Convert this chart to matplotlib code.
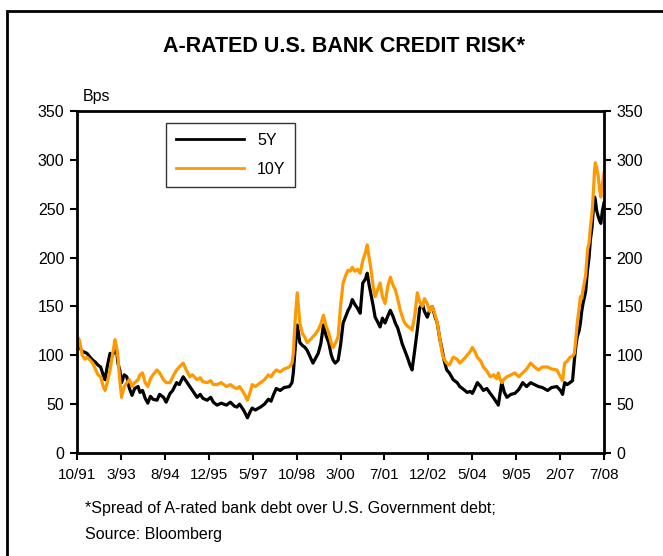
import numpy as np
import matplotlib.pyplot as plt
from matplotlib.patches import Rectangle

plt.rcParams['font.family'] = ['Liberation Sans', 'DejaVu Sans']

# months since Oct 1991 (bps)
months = [0, 1, 2, 3, 3.8, 5, 6, 7, 8, 9,
          10, 10.7, 11.5, 12.6, 13.5, 14.5, 15, 15.6, 16.3, 17,
          18, 19, 20, 21, 22, 23.3, 24, 25, 26, 27,
          28, 29, 30.5, 31.5, 33, 34, 35.5, 36.5, 38, 39,
          40.5, 41.5, 43, 44, 45.8, 47, 48, 49.6, 51, 52,
          53.4, 55, 57, 58.5, 60, 61, 62, 63.5, 64.3, 65,
          66, 66.8, 68, 70, 71.5, 73, 74, 75, 76, 77.5,
          79, 81, 82, 82.5, 83.3, 84, 85, 86, 87, 87.8,
          89, 90, 91, 92, 93, 94, 95, 96, 97, 97.7,
          98.5, 99.6, 100.5, 101.5, 102.5, 103.4, 104.2, 105, 106, 107,
          108, 109, 110, 110.7, 111.4, 112, 113, 113.7, 114.5, 115.6,
          116.5, 117.5, 118.5, 119.5, 120.5, 121.4, 122.3, 123.3, 124, 125,
          126, 127, 127.8, 128.8, 129.8, 130.7, 131.7, 132.5, 133.6, 134.5,
          135.5, 136.5, 137.4, 138.3, 139.3, 140, 141, 142, 143.5, 145,
          146, 147.5, 148.8, 150, 150.8, 151.7, 152.7, 154, 155, 156.3,
          157.6, 159, 160, 160.7, 161.3, 162, 163, 164, 165.5, 167,
          168.5, 170, 171.5, 173, 174.5, 176, 177.5, 179.5, 181, 183,
          184.4, 185.2, 186, 187, 188, 189, 189.7, 190.3, 190.8, 191.5,
          192, 192.5, 193, 194, 194.7, 195.3, 195.8, 196.4, 197, 197.4,
          197.7, 198.2, 198.8, 199.3, 199.8, 200.4, 201]

y5 = [112, 108, 104, 103, 102, 98, 95, 93, 90, 88,
      80, 75, 88, 102, 100, 105, 108, 92, 85, 72,
      80, 78, 66, 59, 66, 68, 62, 64, 56, 51,
      58, 55, 54, 60, 57, 52, 61, 64, 72, 70,
      78, 74, 68, 64, 57, 60, 56, 54, 57, 52,
      49, 51, 49, 52, 48, 47, 50, 44, 40, 36,
      42, 46, 44, 47, 50, 55, 53, 60, 66, 64,
      67, 68, 72, 82, 110, 131, 113, 110, 108, 105,
      98, 92, 97, 102, 112, 131, 120, 113, 100, 95,
      92, 95, 110, 133, 140, 146, 150, 157, 152, 148,
      143, 174, 178, 184, 172, 164, 150, 139, 135, 129,
      138, 133, 140, 146, 140, 133, 128, 119, 112, 105,
      98, 90, 85, 105, 126, 148, 153, 145, 139, 146,
      150, 140, 133, 118, 105, 95, 85, 82, 75, 72,
      68, 65, 62, 63, 61, 66, 72, 68, 64, 66,
      61, 56, 52, 49, 60, 72, 62, 57, 60, 61,
      65, 72, 68, 72, 70, 68, 67, 64, 67, 68,
      64, 60, 72, 70, 72, 74, 95, 110, 119, 125,
      133, 145, 153, 165, 187, 200, 218, 230, 252, 262,
      259, 248, 242, 238, 235, 248, 256]

y10 = [120, 115, 100, 96, 98, 95, 92, 86, 80, 78,
       68, 64, 72, 85, 100, 116, 110, 98, 75, 57,
       68, 72, 75, 68, 72, 75, 80, 82, 72, 68,
       76, 80, 85, 82, 75, 72, 72, 78, 85, 88,
       92, 86, 78, 80, 75, 77, 73, 72, 74, 70,
       70, 72, 68, 70, 67, 66, 68, 62, 58, 54,
       62, 70, 68, 72, 75, 80, 78, 82, 85, 83,
       86, 88, 92, 102, 140, 164, 133, 122, 118, 113,
       116, 119, 122, 126, 132, 141, 130, 123, 112, 108,
       112, 119, 150, 174, 182, 187, 186, 190, 186, 188,
       184, 197, 205, 213, 200, 190, 170, 160, 166, 174,
       160, 153, 170, 180, 172, 167, 158, 146, 140, 133,
       130, 128, 126, 140, 164, 155, 150, 158, 153, 145,
       150, 142, 133, 118, 102, 96, 92, 90, 98, 96,
       92, 96, 100, 104, 108, 104, 98, 94, 88, 84,
       78, 80, 76, 82, 76, 72, 76, 78, 80, 82,
       78, 82, 86, 92, 88, 85, 88, 88, 86, 85,
       78, 74, 92, 94, 98, 99, 102, 118, 133, 148,
       160, 158, 167, 182, 208, 215, 231, 245, 269, 290,
       297, 292, 283, 270, 262, 275, 287]

tick_labels = ['10/91', '3/93', '8/94', '12/95', '5/97', '10/98', '3/00',
               '7/01', '12/02', '5/04', '9/05', '2/07', '7/08']

fig = plt.figure(figsize=(6.63, 5.56), dpi=100)
ax = fig.add_axes([77 / 663, 1 - 453 / 556, 527 / 663, 342 / 556])

ax.plot(months, y5, color='black', lw=2.3, label='5Y')
ax.plot(months, y10, color='#FF9900', lw=2.3, label='10Y')

ax.set_xlim(0, 201)
ax.set_ylim(0, 350)
ax.set_yticks(np.arange(0, 351, 50))
ax.set_xticks(np.linspace(0, 201, 13))
ax.set_xticklabels(tick_labels)
ax.tick_params(axis='y', direction='out', length=5, width=1.5, labelsize=11.5,
               right=True, labelright=True, pad=4)
ax.tick_params(axis='x', direction='out', length=5, width=1.5, labelsize=11, pad=6)
for s in ax.spines.values():
    s.set_linewidth(2)

leg = ax.legend(loc='upper left', bbox_to_anchor=(166 / 663, 1 - 123 / 556),
                bbox_transform=fig.transFigure, fontsize=11.5, fancybox=False,
                handlelength=4.3, borderpad=0.6, labelspacing=0.9, borderaxespad=0)
leg.get_frame().set_edgecolor('black')
leg.get_frame().set_linewidth(1)
for h in leg.get_lines():
    h.set_linewidth(2)

fig.text(344 / 663, 1 - 47 / 556, 'A-RATED U.S. BANK CREDIT RISK*', ha='center', va='center',
         fontsize=15.5, fontweight='bold')
fig.text(83 / 663, 1 - 97 / 556, 'Bps', va='center', fontsize=11.5)
fig.text(85 / 663, 1 - 509 / 556, '*Spread of A-rated bank debt over U.S. Government debt;',
         va='center', fontsize=11.5)
fig.text(85 / 663, 1 - 535 / 556, 'Source: Bloomberg', va='center', fontsize=11.5)

fig.patches.append(Rectangle((7 / 663, -0.1), 1.2, 1 - 11 / 556 + 0.1, transform=fig.transFigure,
                             fill=False, edgecolor='black', lw=2))

fig.savefig('out.png', dpi=100)
